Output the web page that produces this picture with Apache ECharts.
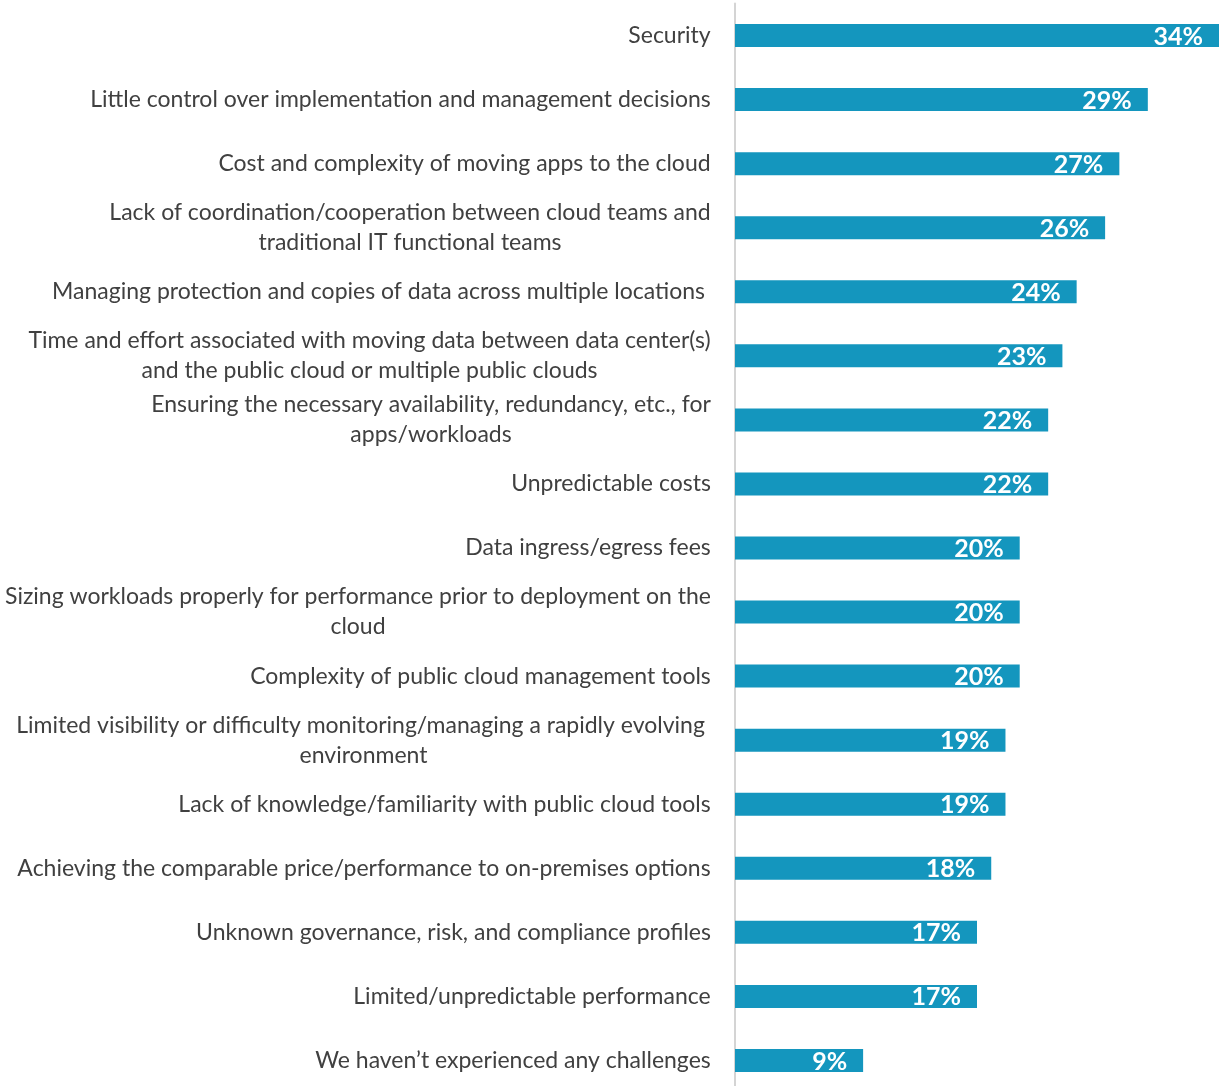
<!DOCTYPE html>
<html><head><meta charset="utf-8">
<script src="https://cdn.jsdelivr.net/npm/echarts@6/dist/echarts.min.js"></script>
<style>html,body{margin:0;padding:0;background:#fff}#c{width:1220px;height:1086px}</style>
</head><body><div id="c"></div>
<script>
const categories = [
  "Security",
  "Little control over implementation and management decisions",
  "Cost and complexity of moving apps to the cloud",
  "Lack of coordination/cooperation between cloud teams and\ntraditional IT functional teams",
  "Managing protection and copies of data across multiple locations ",
  "Time and effort associated with moving data between data center(s)\nand the public cloud or multiple public clouds",
  "Ensuring the necessary availability, redundancy, etc., for\napps/workloads",
  "Unpredictable costs",
  "Data ingress/egress fees",
  "Sizing workloads properly for performance prior to deployment on the\ncloud",
  "Complexity of public cloud management tools",
  "Limited visibility or difficulty monitoring/managing a rapidly evolving \nenvironment",
  "Lack of knowledge/familiarity with public cloud tools",
  "Achieving the comparable price/performance to on-premises options",
  "Unknown governance, risk, and compliance profiles",
  "Limited/unpredictable performance",
  "We haven\u2019t experienced any challenges"
];
const values = [34, 29, 27, 26, 24, 23, 22, 22, 20, 20, 20, 19, 19, 18, 17, 17, 9];

const FONT_FAMILY = 'Lato';
const FONT_SIZE = 23;
const ctx = document.createElement('canvas').getContext('2d');
ctx.font = FONT_SIZE + 'px ' + FONT_FAMILY;
const rich = {};
categories.forEach((c, i) => {
  const lines = c.split('\n');
  const w = Math.max(...lines.map(l => ctx.measureText(l).width));
  rich['c' + i] = {width: Math.ceil(w), align: 'center', fontFamily: FONT_FAMILY, fontSize: FONT_SIZE, color: '#404040', lineHeight: 30};
});

const chart = echarts.init(document.getElementById('c'));
chart.setOption({
  animation: false,
  grid: {left: 735, right: 1, top: 3.5, height: 1089, containLabel: false, outerBoundsMode: 'none'},
  xAxis: {type: 'value', min: 0, max: 34, show: false},
  yAxis: {
    type: 'category', data: categories, inverse: true,
    axisLine: {show: true, lineStyle: {color: '#d4d4d4', width: 2}},
    axisTick: {show: false},
    axisLabel: {
      margin: 24, align: 'right',
      formatter: (v, i) => v.split('\n').map(l => '{c' + i + '|' + l + '}').join('\n'),
      rich: rich
    }
  },
  series: [{
    type: 'bar', data: values, barWidth: 23,
    itemStyle: {color: '#1496be'},
    label: {
      show: true, position: 'insideRight', distance: 16, offset: [0, 1],
      formatter: '{c}%', color: '#fff', fontWeight: 'bold', fontSize: 25, fontFamily: FONT_FAMILY
    }
  }]
});
</script></body></html>
